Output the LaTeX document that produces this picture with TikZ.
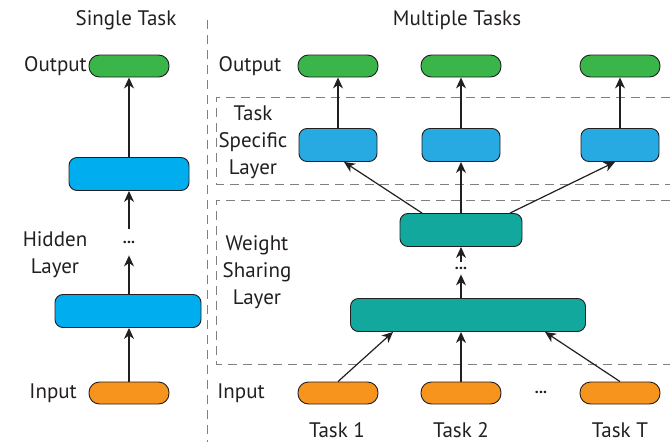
\documentclass[tikz,border=0pt]{standalone}
\usepackage{fontspec}
\setmainfont{PT Sans}
\usetikzlibrary{arrows.meta}
\definecolor{outgreen}{HTML}{3AB54A}
\definecolor{hidblue}{HTML}{00AEEF}
\definecolor{taskblue}{HTML}{27AAE1}
\definecolor{shareteal}{HTML}{12A89D}
\definecolor{inorange}{HTML}{F7941E}
\definecolor{inkgray}{HTML}{231F20}
\definecolor{dashgray}{HTML}{808080}

\begin{document}
\begin{tikzpicture}[x=1pt,y=-1pt,
  pill/.style={draw=inkgray,line width=0.9pt,rounded corners=10.5pt,minimum width=80pt,minimum height=22pt,inner sep=0pt},
  outbox/.style={pill,fill=outgreen},
  inbox/.style={pill,fill=inorange},
  layerbox/.style={draw=inkgray,line width=0.9pt,rounded corners=8pt,minimum height=33pt,inner sep=0pt},
  hidbox/.style={layerbox,fill=hidblue},
  taskbox/.style={layerbox,fill=taskblue,minimum width=78pt},
  sharebox/.style={layerbox,fill=shareteal},
  txt/.style={text=inkgray,font=\fontsize{21}{27}\selectfont,align=center,inner sep=0pt},
  dotnode/.style={text=inkgray,font=\fontsize{16}{16}\selectfont\bfseries},
  arr/.style={draw=inkgray,line width=1.2pt,-{Stealth[length=11pt,width=10pt,inset=3.5pt]}},
  frame/.style={draw=dashgray,line width=1pt,dash pattern=on 9pt off 6pt},
]
\useasboundingbox (0,0) rectangle (672,442);

\draw[frame] (207,20) -- (207,442);
\draw[frame] (670,97) -- (216,97) -- (216,184) -- (670,184);
\draw[frame] (670,200) -- (216,200) -- (216,364) -- (670,364);

\node[txt] (ttlsingle) at (126,20) {Single Task};
\node[txt] (ttlmulti) at (457,20) {Multiple Tasks};

\node[outbox] (lout) at (129,66) {};
\node[hidbox,minimum width=120pt] (lhid2) at (129,174) {};
\node[dotnode,inner sep=12pt] (ldots) at (129,242) {...};
\node[hidbox,minimum width=146pt] (lhid1) at (128,311) {};
\node[inbox] (lin) at (129,393) {};

\node[txt,anchor=east] (loutlbl) at (87,66) {Output};
\node[txt] (lhidlbl) at (55,255) {Hidden\\Layer};
\node[txt,anchor=east] (linlbl) at (77,393) {Input};

\draw[arr] (lin) -- (lin |- lhid1.south);
\draw[arr] (lhid1.north -| ldots) -- (ldots);
\draw[arr] (ldots) -- (ldots |- lhid2.south);
\draw[arr] (lhid2.north -| lout) -- (lout);

\node[outbox] (out1) at (338,66) {};
\node[outbox] (out2) at (461,66) {};
\node[outbox] (out3) at (620,66) {};
\node[taskbox] (ts1) at (338,145) {};
\node[taskbox] (ts2) at (461,145) {};
\node[taskbox] (ts3) at (620,145) {};
\node[sharebox,minimum width=122pt] (sh2) at (461,230) {};
\node[dotnode,inner sep=5pt] (sdots) at (461,268) {...};
\node[sharebox,minimum width=235pt] (sh1) at (468,315) {};
\node[inbox] (in1) at (338,393) {};
\node[inbox] (in2) at (461,393) {};
\node[dotnode] (indots) at (541,392) {...};
\node[inbox] (in3) at (620,393) {};

\node[txt] (routlbl) at (250,66) {Output};
\node[txt] (tslbl) at (253,142) {Task\\Specific\\Layer};
\node[txt] (shlbl) at (257,272) {Weight\\Sharing\\Layer};
\node[txt] (rinlbl) at (241,393) {Input};
\node[txt] (task1) at (337,430) {Task 1};
\node[txt] (task2) at (461,430) {Task 2};
\node[txt] (taskT) at (620,430) {Task T};

\draw[arr] (in1.north) -- ([xshift=-75pt]sh1.south);
\draw[arr] (in2.north) -- (in2.north |- sh1.south);
\draw[arr] (in3.north) -- ([xshift=77pt]sh1.south);
\draw[arr] (sh1.north -| sdots) -- (sdots);
\draw[arr] (sdots) -- (sdots |- sh2.south);
\draw[arr] ([xshift=-39pt]sh2.north) -- ([xshift=6pt]ts1.south);
\draw[arr] (sh2.north) -- (ts2.south);
\draw[arr] ([xshift=49pt]sh2.north) -- ([xshift=-5pt]ts3.south);
\draw[arr] (ts1) -- (out1);
\draw[arr] (ts2) -- (out2);
\draw[arr] (ts3) -- (out3);
\end{tikzpicture}
\end{document}
